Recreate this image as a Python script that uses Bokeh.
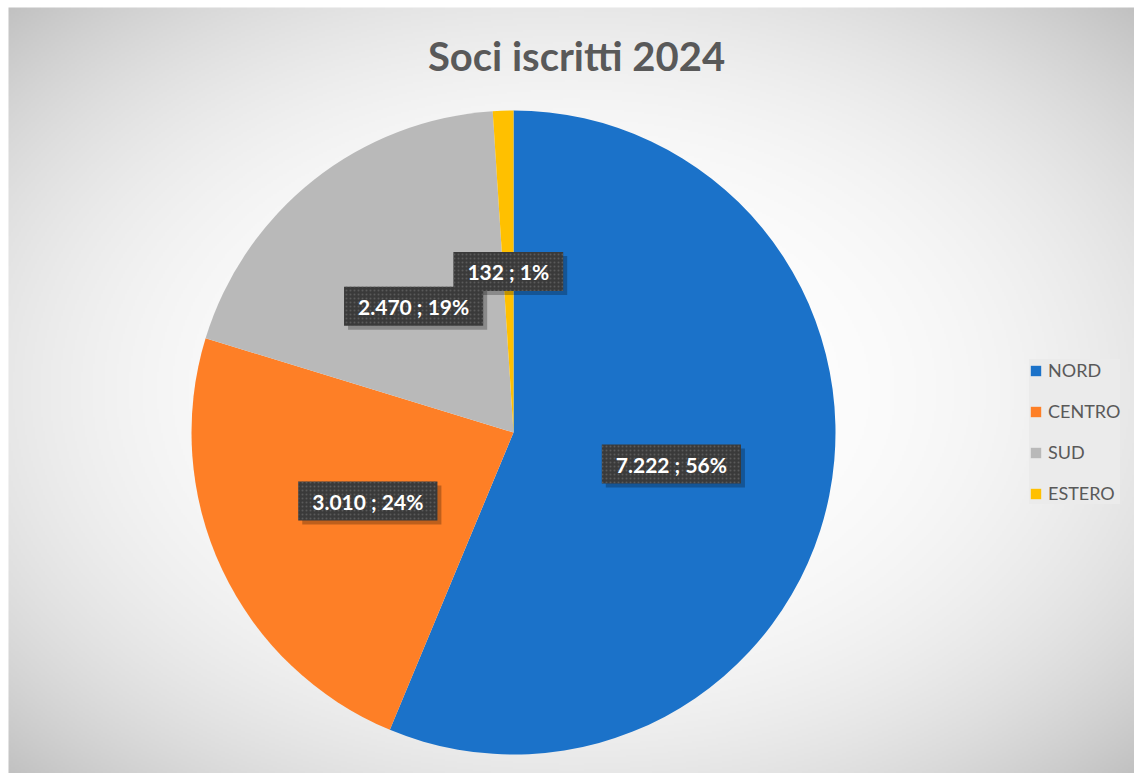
import numpy as np
from bokeh.plotting import figure
from bokeh.models import ColumnDataSource, Legend, LegendItem, Label
from bokeh.core.properties import value
from bokeh.embed import file_html
from bokeh.resources import INLINE

# ---- data ----
categories = ["NORD", "CENTRO", "SUD", "ESTERO"]
counts = [7222, 3010, 2470, 132]
percent_labels = [56, 24, 19, 1]
colors = ["#1b72c9", "#fe7f26", "#b9b9b9", "#ffc000"]
title_text = "Soci iscritti 2024"

W, H = 1134, 773
X0, YTOP = 8, 7          # chart area starts here (screen px)
CX, CY, R = 513, 341, 322

p = figure(width=W, height=H, x_range=(0, W), y_range=(0, H), min_border=0,
           toolbar_location=None, output_backend="svg")
p.axis.visible = False
p.grid.visible = False
p.outline_line_color = None
p.background_fill_color = "#ffffff"
p.border_fill_color = "#ffffff"

# ---- radial background gradient ----
cw, ch = W - X0, H - YTOP
gh, gw = ch // 2, cw // 2
yy, xx = np.mgrid[0:gh, 0:gw]
nx = (xx + 0.5) / gw * 2 - 1
ny = (yy + 0.5) / gh * 2 - 1
r2 = (nx ** 2 + ny ** 2) / 2.0
g = (255 - 62 * r2 ** 1.4).clip(0, 255).astype(np.uint32)
img = (255 << 24) | (g << 16) | (g << 8) | g
p.image_rgba(image=[img], x=X0, y=0, dw=cw, dh=ch)

# ---- pie ----
vals = np.array(counts, dtype=float)
total = vals.sum()
frac = vals / total
cum = np.concatenate([[0], np.cumsum(frac)])
start = np.pi / 2 - cum[:-1] * 2 * np.pi
end = np.pi / 2 - cum[1:] * 2 * np.pi
mid = (start + end) / 2

src = ColumnDataSource(dict(cat=categories, val=counts, start=start, end=end,
                            color=colors))
w = p.wedge(x=CX, y=CY, radius=R, start_angle="start", end_angle="end",
            direction="clock", fill_color="color", line_color=None, source=src)

# ---- data labels ----
lab_txt = [f"{v:,}".replace(",", ".") + f" ; {pc}%" for v, pc in zip(counts, percent_labels)]
lsrc = ColumnDataSource(dict(x=CX + 0.5 * R * np.cos(mid), y=CY + 0.5 * R * np.sin(mid),
                             t=lab_txt))
# shadow
p.text(x="x", y="y", text="t", source=lsrc, x_offset=4, y_offset=4,
       text_font=value("Lato"), text_font_style="bold", text_font_size="21px",
       text_align="center", text_baseline="middle", text_alpha=0,
       background_fill_color="#000000", background_fill_alpha=0.25,
       padding=(14, 7))
p.text(x="x", y="y", text="t", source=lsrc,
       text_font=value("Lato"), text_font_style="bold", text_font_size="21px",
       text_align="center", text_baseline="middle", text_color="#ffffff",
       background_fill_color="#3a3a3a", background_fill_alpha=1.0,
       background_hatch_pattern="dot", background_hatch_color="#5a5a5a",
       background_hatch_scale=4, background_hatch_weight=1,
       padding=(14, 7))

# ---- title ----
p.add_layout(Label(x=576, y=H - 55, text=title_text, text_font="Lato",
                   text_font_style="bold", text_font_size="40px",
                   text_color="#595959", text_align="center",
                   text_baseline="middle"))

# ---- legend ----
items = [LegendItem(label=c, renderers=[w], index=i) for i, c in enumerate(categories)]
legend = Legend(items=items, location=(1029, 269), orientation="vertical",
                glyph_width=13, glyph_height=13, label_standoff=6,
                label_text_font="Lato", label_text_font_size="18px",
                label_text_color="#595959", spacing=19, padding=10, margin=0,
                background_fill_color="#ebebeb", background_fill_alpha=1.0,
                border_line_color=None, label_height=20)
p.add_layout(legend, "center")

open("out.html", "w").write(file_html(p, INLINE))
